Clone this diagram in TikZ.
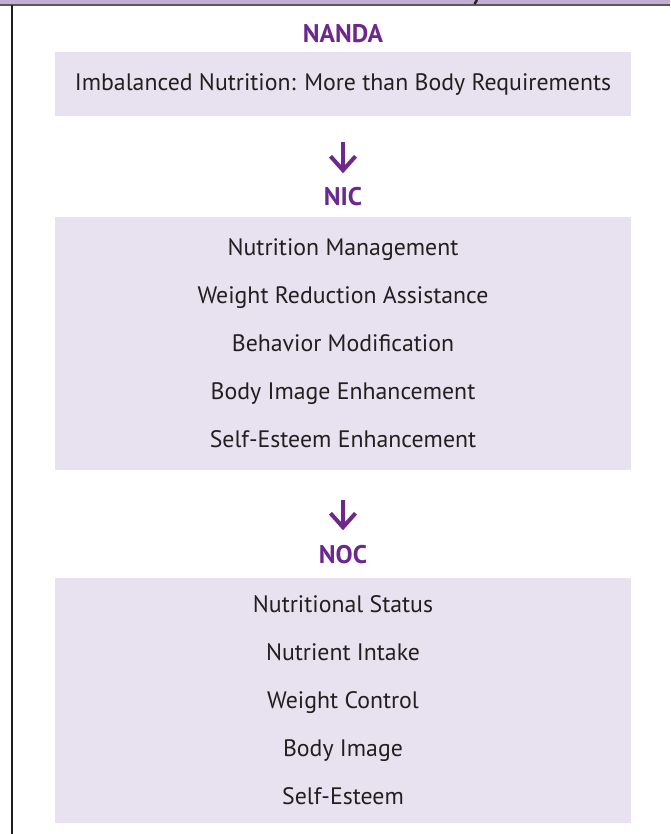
\documentclass[tikz,border=0pt]{standalone}
\usepackage{fontspec}
\setmainfont{PT Sans}
\usetikzlibrary{arrows.meta,positioning}
\definecolor{nurspurple}{RGB}{108,40,140}
\definecolor{boxlilac}{RGB}{232,225,239}
\definecolor{barlilac}{RGB}{196,174,212}
\definecolor{inkgrey}{RGB}{35,31,32}

\begin{document}
\begin{tikzpicture}[x=1pt,y=-1pt,
    heading/.style={text=nurspurple,anchor=base,font=\fontsize{25.5}{30}\selectfont\bfseries},
    item/.style={text=inkgrey,anchor=base,font=\fontsize{23.8}{28}\selectfont},
    panel/.style={fill=boxlilac,draw=none,minimum width=576},
    flow/.style={nurspurple,line width=4pt,-{Straight Barb[length=14pt,width=25pt]}}]
        \useasboundingbox (0,0) rectangle (670,834);
        % Title bar and frame
        \fill[barlilac] (0,0) rectangle (670,4.5);
        \draw[line width=2pt,black!65] (0,5) -- (670,5);
        \draw[line width=1.6pt,inkgrey] (12,5) -- (12,834);
        \draw[line width=2.4pt,inkgrey] (477,0) -- (474.5,4);
        % Panels
        \node[panel,minimum height=64] (nanda) at (343,84) {};
        \node[panel,minimum height=253] (nic) at (343,343.5) {};
        \node[panel,minimum height=245] (noc) at (343,700.5) {};
        % Headings
        \node[heading] (nandahead) at (343,43) {NANDA};
        \node[heading] (nichead) at (343,206) {NIC};
        \node[heading] (nochead) at (343,563) {NOC};
        % Diagnosis
        \node[item] (diag) at (343,91) {Imbalanced Nutrition: More than Body Requirements};
        % Interventions
        \foreach \lab [count=\i] in {Nutrition Management,Weight Reduction Assistance,
            Behavior Modification,Body Image Enhancement,Self-Esteem Enhancement}{
          \node[item] (nic\i) at (343,255+48*\i-48) {\lab};
        }
        % Outcomes
        \foreach \lab [count=\i] in {Nutritional Status,Nutrient Intake,
            Weight Control,Body Image,Self-Esteem}{
          \node[item] (noc\i) at (343,612+48*\i-48) {\lab};
        }
        % Arrows between the levels
        \draw[flow,shorten <=26pt,shorten >=11pt] (nanda) -- (nichead);
        \draw[flow,shorten <=30pt,shorten >=11pt] (nic) -- (nochead);
\end{tikzpicture}
\end{document}
